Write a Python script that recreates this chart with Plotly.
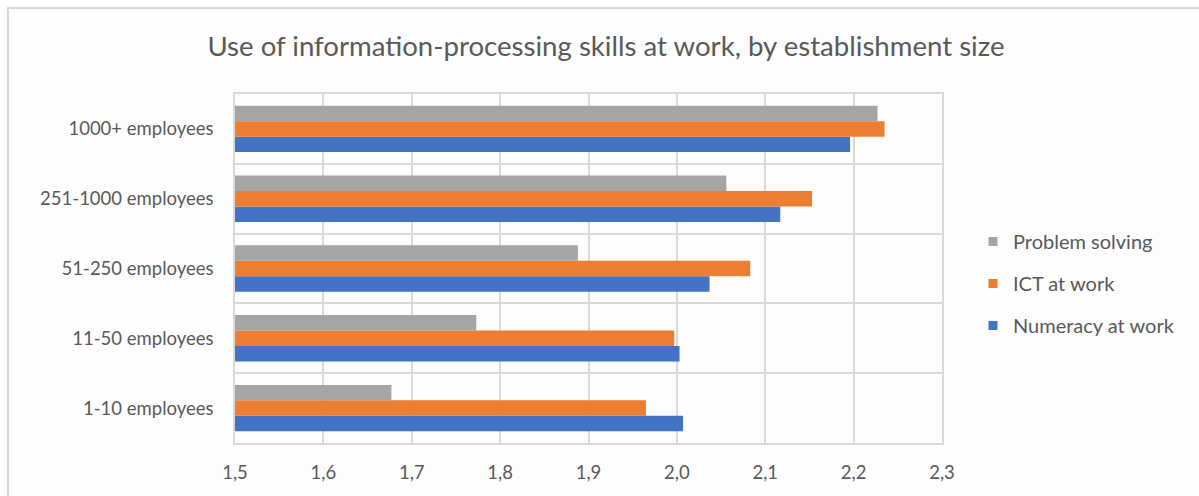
import plotly.graph_objects as go

# Establishment-size categories (bottom to top) and skill-use indices
categories = ["1-10 employees", "11-50 employees", "51-250 employees",
              "251-1000 employees", "1000+ employees"]
numeracy = [2.007, 2.003, 2.037, 2.117, 2.196]
ict = [1.965, 1.997, 2.083, 2.153, 2.235]
problem_solving = [1.677, 1.773, 1.888, 2.056, 2.227]

x_ticks = [1.5, 1.6, 1.7, 1.8, 1.9, 2.0, 2.1, 2.2, 2.3]

FONT = "Lato"
TEXT = "#595959"
GRID = "#d9d9d9"

W, H = 1199, 496
L, R, T, B = 235, 942, 94, 443


def px_x(p):
    return (p - L) / (R - L)


def px_y(p):
    return (B - p) / (B - T)


series = [
    ("Numeracy at work", numeracy, "#4472C4"),
    ("ICT at work", ict, "#ED7D31"),
    ("Problem solving", problem_solving, "#A5A5A5"),
]

fig = go.Figure()
# bars: first trace sits lowest within each category group
for name, vals, color in series:
    fig.add_trace(go.Bar(
        y=categories, x=vals, orientation="h", name=name,
        marker=dict(color=color, line=dict(width=0)),
        showlegend=False,
    ))
# small square legend keys, listed top to bottom
for name, vals, color in reversed(series):
    fig.add_trace(go.Scatter(
        x=[None], y=[None], mode="markers", name=name, legendgroup=name,
        marker=dict(symbol="square", size=9, color=color),
        showlegend=True, hoverinfo="skip",
    ))

fig.update_layout(
    width=W, height=H,
    margin=dict(l=L, r=W - R, t=T, b=H - B),
    paper_bgcolor="white",
    plot_bgcolor="rgba(0,0,0,0)",
    barmode="group", bargap=0.335, bargroupgap=0,
    separators=",.",
    font=dict(family=FONT, color=TEXT, size=18),
    title=dict(text="Use of information-processing skills at work, by establishment size",
               x=606 / W, xanchor="center", y=1 - 46 / H, yanchor="middle",
               yref="container", xref="container",
               font=dict(family=FONT, size=27.6, color=TEXT)),
    legend=dict(x=px_x(973), xanchor="left", y=px_y(222), yanchor="top",
                traceorder="grouped", tracegroupgap=13,
                itemwidth=30,
                font=dict(family=FONT, size=20, color=TEXT),
                bgcolor="rgba(0,0,0,0)"),
    showlegend=True,
)

fig.update_xaxes(
    range=[1.5, 2.3], tickvals=x_ticks, tickformat=".1f",
    showgrid=True, gridcolor=GRID, gridwidth=1.5,
    showline=True, linecolor=GRID, linewidth=1.5, mirror=True,
    zeroline=False, ticks="", ticklabelstandoff=12,
    tickfont=dict(family=FONT, size=18.5, color=TEXT),
)
fig.update_yaxes(
    type="category", categoryorder="array", categoryarray=categories,
    tickson="boundaries", showgrid=True, gridcolor=GRID, gridwidth=1.5,
    showline=True, linecolor=GRID, linewidth=1.5, mirror=True,
    ticks="", ticklabelstandoff=16,
    tickfont=dict(family=FONT, size=18.5, color=TEXT),
)

# Chart frame
fig.add_shape(type="rect", xref="paper", yref="paper", layer="below",
              x0=px_x(8), x1=px_x(W + 10), y0=px_y(H + 10), y1=px_y(8),
              fillcolor="#fdfdfd", line=dict(color="#d6d6d6", width=2))

fig.write_html("out.html")
